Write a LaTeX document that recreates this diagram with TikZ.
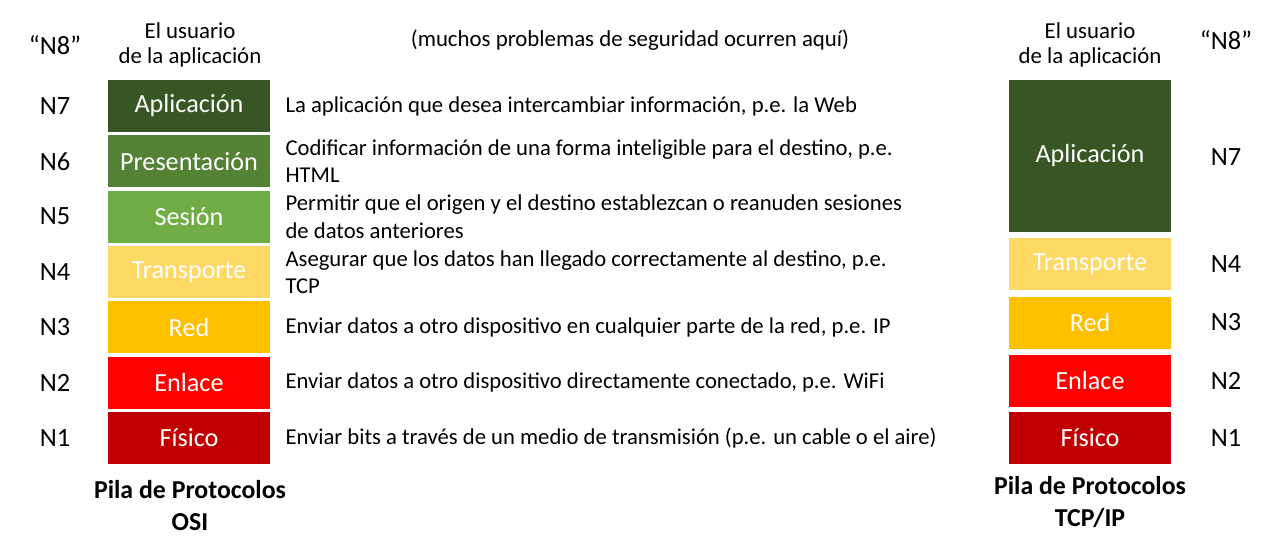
\documentclass[tikz,border=0pt]{standalone}
\usepackage{fontspec}
\setmainfont{Carlito}
\usetikzlibrary{positioning}
\definecolor{GreenDark}{HTML}{375623}
\definecolor{GreenMid}{HTML}{548235}
\definecolor{GreenLight}{HTML}{70AD47}
\definecolor{GoldLight}{HTML}{FFD966}
\definecolor{Gold}{HTML}{FFC000}
\definecolor{RedBright}{HTML}{FF0000}
\definecolor{RedDark}{HTML}{C00000}

\begin{document}
\begin{tikzpicture}[x=0.02cm, y=-0.02cm,
  layer/.style={minimum width=3.24cm, minimum height=1.04cm, inner sep=0pt,
    text=white, font=\fontsize{14.9}{16}\selectfont},
  lvl/.style={font=\fontsize{15}{16}\selectfont},
  desc/.style={anchor=west, align=left, font=\fontsize{12.9}{15.5}\selectfont},
  note/.style={align=center, font=\fontsize{13}{14.2}\selectfont},
  title/.style={align=center, font=\fontsize{14.7}{18.2}\selectfont\bfseries}]
  \useasboundingbox (0,0) rectangle (1280,551);

  % OSI stack
  \foreach \i/\nm/\col/\lbl/\dsc in {
    0/osiapl/GreenDark/Aplicación/{La aplicación que desea intercambiar información, p.e. la Web},
    1/osipre/GreenMid/Presentación/{Codificar información de una forma inteligible para el destino, p.e.\\HTML},
    2/osises/GreenLight/Sesión/{Permitir que el origen y el destino establezcan o reanuden sesiones\\de datos anteriores},
    3/ositra/GoldLight/Transporte/{Asegurar que los datos han llegado correctamente al destino, p.e.\\TCP},
    4/osired/Gold/Red/{Enviar datos a otro dispositivo en cualquier parte de la red, p.e. IP},
    5/osienl/RedBright/Enlace/{Enviar datos a otro dispositivo directamente conectado, p.e. WiFi},
    6/osifis/RedDark/Físico/{Enviar bits a través de un medio de transmisión (p.e. un cable o el aire)}}{
    \pgfmathsetmacro{\ypos}{106+\i*55.3}
    \pgfmathtruncatemacro{\lev}{7-\i}
    \node[layer, fill=\col] (\nm) at (189,\ypos) {\lbl};
    \node[lvl] (\nm-n) at (55,\ypos) {N\lev};
    \node[desc, right=0.18cm of \nm] (\nm-d) {\dsc};
  }
  \node[lvl] (osin8) at (55,45) {“N8”};
  \node[note] (osiuser) at (190,45) {El usuario\\de la aplicación};
  \node[note] (issues) at (630,40) {(muchos problemas de seguridad ocurren aquí)};
  \node[title] (osititle) at (190,506) {Pila de Protocolos\\OSI};

  % TCP/IP stack
  \node[layer, fill=GreenDark, minimum height=3.04cm] (tcpapl) at (1090,156) {Aplicación};
  \foreach \y/\nm/\col/\lbl/\lev in {
    264/tcptra/GoldLight/Transporte/4,
    322.5/tcpred/Gold/Red/3,
    381/tcpenl/RedBright/Enlace/2,
    438/tcpfis/RedDark/Físico/1}{
    \node[layer, fill=\col] (\nm) at (1090,\y) {\lbl};
    \node[lvl] (\nm-n) at (1226,\y) {N\lev};
  }
  \node[lvl] (tcpapl-n) at (1226,157) {N7};
  \node[lvl] (tcpn8) at (1226,40) {“N8”};
  \node[note] (tcpuser) at (1090,45) {El usuario\\de la aplicación};
  \node[title] (tcptitle) at (1090,502) {Pila de Protocolos\\TCP/IP};
\end{tikzpicture}
\end{document}
